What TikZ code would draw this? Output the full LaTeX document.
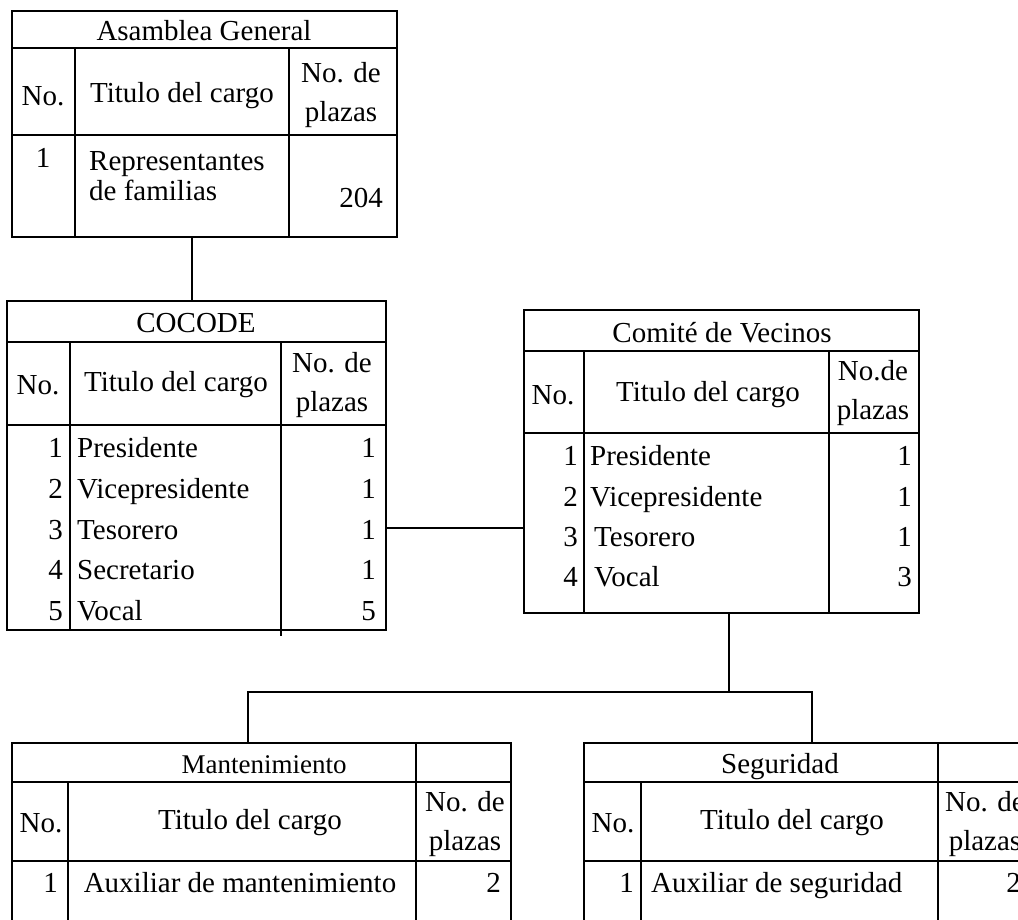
\documentclass[tikz,border=0pt]{standalone}
\usepackage{fontspec}
\setmainfont{Liberation Serif}
\usepackage{tikz}
\usetikzlibrary{positioning}

\tikzset{
  tbl/.style={draw, line width=1.6pt, inner sep=0pt},
  rule/.style={line width=1.6pt},
  txt/.style={inner sep=0pt, font=\fontsize{29}{39}\selectfont},
  titlecell/.style={txt, anchor=base},
  numcell/.style={txt, anchor=base east},
  namecell/.style={txt, anchor=base west},
  headcell/.style={txt, align=center},
  link/.style={line width=1.6pt},
}

\begin{document}
\begin{tikzpicture}[x=1pt, y=-1pt]
\useasboundingbox (0,0) rectangle (1018,919);
\clip (0,0) rectangle (1018,919);

% Asamblea General
\node[tbl, minimum width=385pt, minimum height=226pt] (asamblea) at (204.5,124) {};
\draw[rule] (12,48) -- (397,48) (12,135) -- (397,135)
  (75,48) -- (75,237) (289,48) -- (289,237);
\node[titlecell] (asamblea_title) at (204,40) {Asamblea General};
\node[headcell] (asamblea_no) at (43,96) {No.};
\node[headcell] (asamblea_cargo) at (182,96) {Titulo del cargo};
\node[headcell] (asamblea_plazas) at (341,95) {No. de\\plazas};
\node[titlecell] (asamblea_n1) at (43,167) {1};
\node[namecell] (asamblea_r1) at (89,170) {Representantes};
\node[namecell] (asamblea_r1b) at (89,200) {de familias};
\node[numcell] (asamblea_v1) at (383,207) {204};

% COCODE
\node[tbl, minimum width=379pt, minimum height=329pt] (cocode) at (196.5,465.5) {};
\draw[rule] (7,342) -- (386,342) (7,425) -- (386,425)
  (70,342) -- (70,630) (281,342) -- (281,636);
\node[titlecell] (cocode_title) at (196,332) {COCODE};
\node[headcell] (cocode_no) at (38,385) {No.};
\node[headcell] (cocode_cargo) at (176,385) {Titulo del cargo};
\node[headcell] (cocode_plazas) at (332,385) {No. de\\plazas};
\foreach \n/\cargo/\plazas/\y in {1/Presidente/1/457, 2/Vicepresidente/1/498,
    3/Tesorero/1/539, 4/Secretario/1/579, 5/Vocal/5/620} {
  \node[numcell] (cocode_n\n) at (63,\y) {\n};
  \node[namecell] (cocode_r\n) at (77,\y) {\cargo};
  \node[numcell] (cocode_v\n) at (376,\y) {\plazas};
}

% Comite de Vecinos
\node[tbl, minimum width=395pt, minimum height=303pt] (comite) at (721.5,461.5) {};
\draw[rule] (524,351) -- (919,351) (524,433) -- (919,433)
  (584,351) -- (584,613) (829,351) -- (829,613);
\node[titlecell] (comite_title) at (722,342) {Comité de Vecinos};
\node[headcell] (comite_no) at (553,395) {No.};
\node[headcell] (comite_cargo) at (708,395) {Titulo del cargo};
\node[headcell] (comite_plazas) at (873,393) {No.de\\plazas};
\foreach \n/\cargo/\plazas/\y/\dx in {1/Presidente/1/465/0, 2/Vicepresidente/1/506/0,
    3/Tesorero/1/546/4, 4/Vocal/3/586/4} {
  \node[numcell] (comite_n\n) at (578,\y) {\n};
  \node[namecell] (comite_r\n) at (590+\dx,\y) {\cargo};
  \node[numcell] (comite_v\n) at (912,\y) {\plazas};
}

% Mantenimiento
\node[tbl, minimum width=499pt, minimum height=217pt] (mant) at (261.5,851.5) {};
\draw[rule] (12,782) -- (511,782) (12,861) -- (511,861)
  (68,782) -- (68,960) (416,743) -- (416,960);
\node[titlecell, font=\fontsize{27}{33}\selectfont] (mant_title) at (264,773) {Mantenimiento};
\node[headcell] (mant_no) at (41,823) {No.};
\node[headcell] (mant_cargo) at (250,823) {Titulo del cargo};
\node[headcell] (mant_plazas) at (465,824) {No. de\\plazas};
\node[numcell] (mant_n1) at (58,892) {1};
\node[titlecell] (mant_r1) at (240,892) {Auxiliar de mantenimiento};
\node[numcell] (mant_v1) at (501,892) {2};

% Seguridad
\node[tbl, minimum width=448pt, minimum height=217pt] (seg) at (808,851.5) {};
\draw[rule] (584,782) -- (1032,782) (584,861) -- (1032,861)
  (641,782) -- (641,960) (938,743) -- (938,960);
\node[titlecell] (seg_title) at (780,773) {Seguridad};
\node[headcell] (seg_no) at (613,823) {No.};
\node[headcell] (seg_cargo) at (792,823) {Titulo del cargo};
\node[headcell] (seg_plazas) at (985,824) {No. de\\plazas};
\node[numcell] (seg_n1) at (634,892) {1};
\node[namecell] (seg_r1) at (651,892) {Auxiliar de seguridad};
\node[numcell] (seg_v1) at (1021,892) {2};

% connectors
\coordinate (split) at (729,692);
\draw[link] ([xshift=-12.5pt]asamblea.south) -- ([xshift=-12.5pt]asamblea.south |- cocode.north);
\draw[link] ([yshift=-62.5pt]cocode.east) -- ([yshift=-62.5pt]cocode.east -| comite.west);
\draw[link] ([xshift=7.5pt]comite.south) -- (split);
\draw[link] ([xshift=-13.5pt]mant.north) |- (split) -| ([xshift=4pt]seg.north);

\end{tikzpicture}
\end{document}
